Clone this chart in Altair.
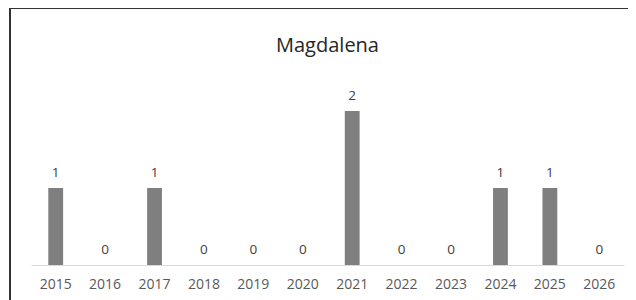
import altair as alt
import pandas as pd

years = ["2015", "2016", "2017", "2018", "2019", "2020", "2021", "2022", "2023", "2024", "2025", "2026"]
counts = [1, 0, 1, 0, 0, 0, 2, 0, 0, 1, 1, 0]
title_text = "Magdalena"

df = pd.DataFrame({"year": years, "count": counts})

FONT = "Open Sans"
W, H = 593, 257

x = alt.X("year:N", sort=years, title=None,
          scale=alt.Scale(paddingInner=0.7, paddingOuter=0.35),
          axis=alt.Axis(labelAngle=0, ticks=False, domainColor="#d9d9d9", domainWidth=1,
                        labelColor="#595959", labelFont=FONT, labelFontSize=14,
                        labelPadding=12, grid=False))
y = alt.Y("count:Q", title=None, scale=alt.Scale(domain=[0, 3.34], nice=False), axis=None)

bars = alt.Chart(df).mark_bar(color="#7f7f7f").encode(x=x, y=y)
labels = alt.Chart(df).mark_text(baseline="alphabetic", dy=-11, font=FONT, fontSize=13.5,
                                 color="#404040").encode(x=x, y=y, text="count:Q")

frame_top = alt.Chart(df).mark_rule(color="#333333", strokeWidth=2).encode(
    x=alt.value(-21), x2=alt.value(620), y=alt.value(0))
frame_left = alt.Chart(df).mark_rule(color="#333333", strokeWidth=2).encode(
    x=alt.value(-21), y=alt.value(-1), y2=alt.value(300))

chart = alt.layer(bars, labels, frame_top, frame_left).properties(
    width=W, height=H,
    background="white",
    title=alt.TitleParams(text=title_text, font=FONT, fontSize=20, fontWeight="normal",
                          color="#262626", anchor="middle", baseline="alphabetic", offset=-66),
    autosize=alt.AutoSizeParams(type="none"),
    padding={"left": 23, "top": 0, "right": 4, "bottom": 40},
).configure_view(strokeWidth=0, stroke="transparent")

chart.save("out.html", embed_options={"renderer": "svg", "actions": False})
